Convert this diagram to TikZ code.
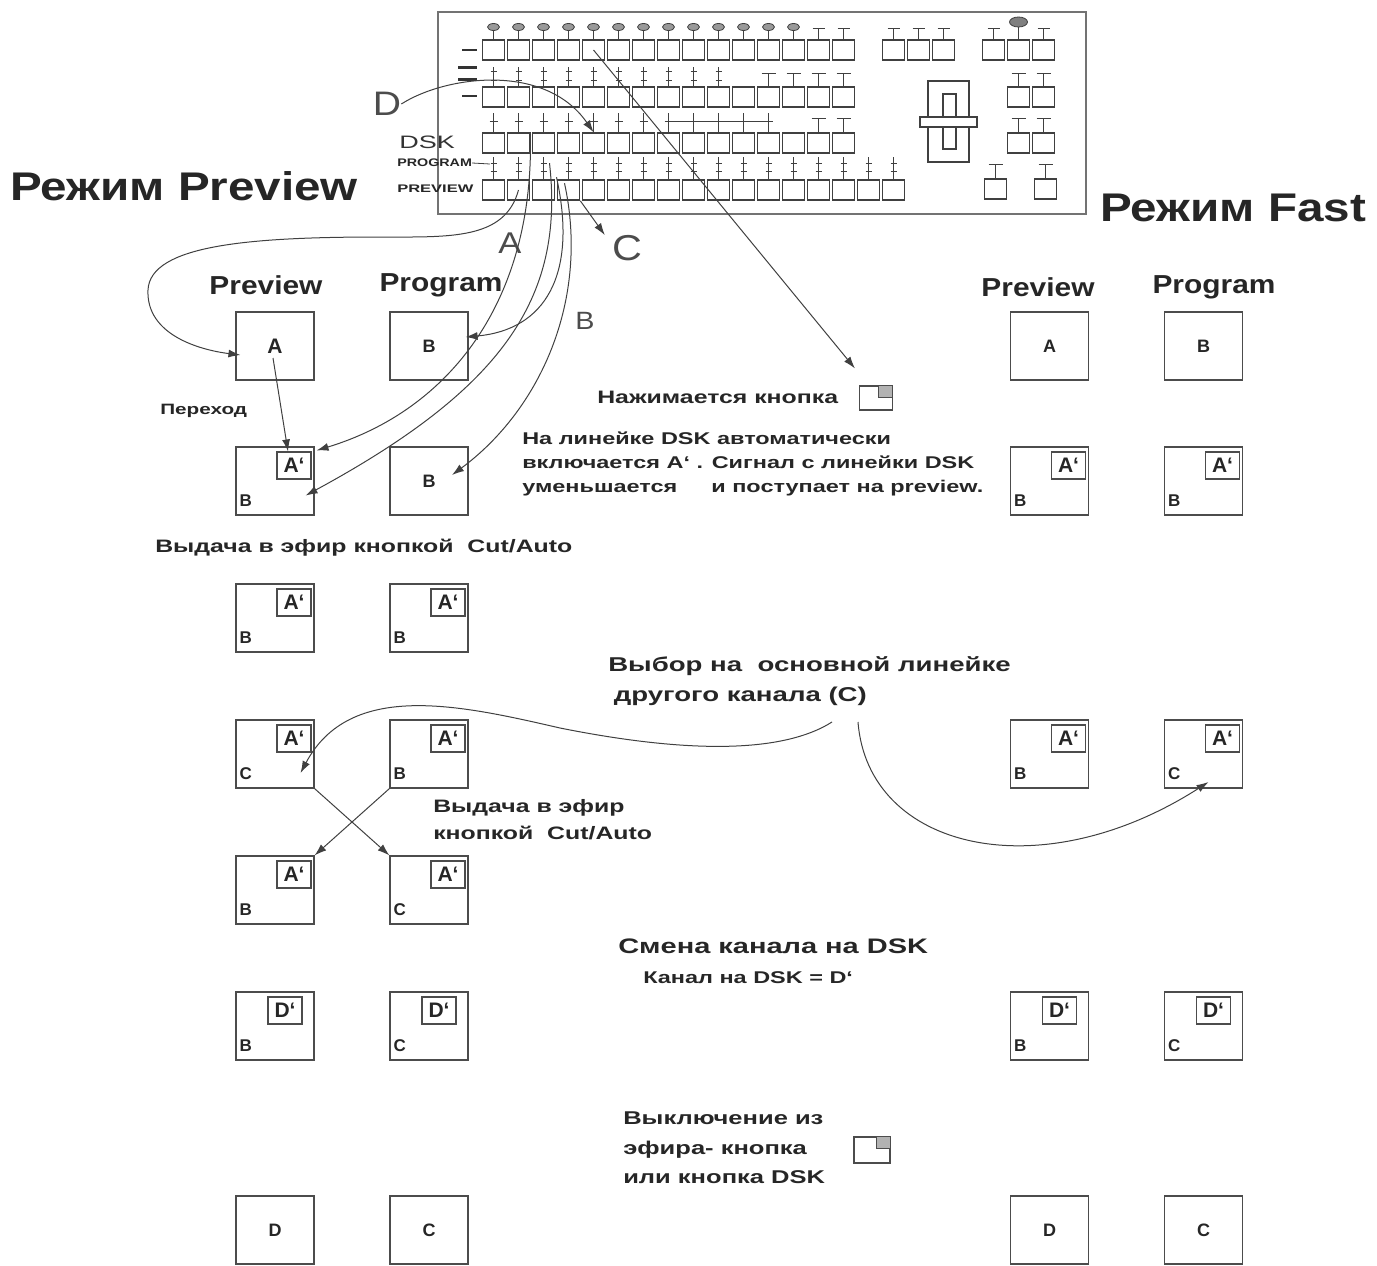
\documentclass[tikz,border=0pt]{standalone}
\usepackage{fontspec}
\setmainfont{Liberation Sans}
\usetikzlibrary{arrows.meta}

\tikzset{
  scr/.style={draw=black!70, line width=1.1pt, minimum width=78pt, minimum height=68pt, inner sep=0pt,
    font=\fontsize{18}{18}\selectfont\bfseries, text=black!85},
  inset/.style={draw=black!70, line width=1.1pt, minimum width=34pt, minimum height=27pt, inner sep=0pt,
    anchor=north east, font=\fontsize{21}{21}\selectfont\bfseries, text=black!85},
  ch/.style={anchor=south west, inner sep=1pt, font=\fontsize{17}{17}\selectfont\bfseries, text=black!85},
  btn/.style={draw=black!75, line width=1.6pt, minimum width=22pt, minimum height=20pt, inner sep=0pt},
  keymark/.style={draw=black!75, line width=0.8pt},
  icon/.style={draw=black!70, line width=1.1pt, minimum width=33pt, minimum height=24pt, inner sep=0pt},
  title/.style={font=\fontsize{40}{48}\selectfont\bfseries, xscale=1.19, text=black!85, inner sep=0pt},
  head/.style={font=\fontsize{26}{30}\selectfont\bfseries, xscale=1.15, text=black!85, inner sep=0pt},
  note/.style={font=\fontsize{18}{24}\selectfont\bfseries, xscale=1.38, text=black!85, inner sep=0pt, align=left},
  big/.style={font=\fontsize{30}{30}\selectfont, xscale=1.15, text=black!70, inner sep=0pt},
  arr/.style={draw=black!75, line width=1pt, -{Latex[length=12pt,width=8pt]}}
}

\begin{document}
\begin{tikzpicture}[x=1pt,y=-1pt]
\useasboundingbox (0,0) rectangle (1377,1266);

% panel
\draw[draw=black!55, line width=1.6pt] (438,12) rectangle (1086,214);
\foreach \i in {0,...,14} {
  \node[btn] (ka\i) at (493.5+25*\i,50) {};
  \node[btn] (kb\i) at (493.5+25*\i,97) {};
  \node[btn] (kc\i) at (493.5+25*\i,143) {};
}
\foreach \i in {0,...,16}
  \node[btn] (kd\i) at (493.5+25*\i,190) {};
\foreach \i in {0,1,2} {
  \node[btn] (ke\i) at (893.5+25*\i,50) {};
  \node[btn] (kf\i) at (993.5+25*\i,50) {};
}
\foreach \i in {0,1} {
  \node[btn] (kg\i) at (1018.5+25*\i,97) {};
  \node[btn] (kh\i) at (1018.5+25*\i,143) {};
}
\node[btn] (ki0) at (995.5,189) {};
\node[btn] (ki1) at (1045.5,189) {};

% marks over the buttons
\foreach \i in {0,...,12} {
  \draw[keymark] (493.5+25*\i,31) -- (493.5+25*\i,40);
  \draw[keymark, fill=black!40] (493.5+25*\i,27) ellipse (6pt and 3.5pt);
}
\foreach \x in {818.5,843.5,893.5,918.5,943.5,993.5,1043.5}
  \draw[keymark] (\x-6,28) -- (\x+6,28) (\x,28) -- (\x,40);
\draw[keymark] (1018.5,26) -- (1018.5,40);
\draw[keymark, fill=black!50] (1018.5,22) ellipse (9pt and 5pt);
\foreach \i in {0,...,9}
  \draw[keymark] (493.5+25*\i,67) -- (493.5+25*\i,87) (490.5+25*\i,71) -- (496.5+25*\i,71) (490.5+25*\i,80) -- (496.5+25*\i,80);
\foreach \x in {768.5,793.5,818.5,843.5,1018.5,1043.5}
  \draw[keymark] (\x-7,73) -- (\x+7,73) (\x,73) -- (\x,87);
\foreach \i in {0,...,11}
  \draw[keymark] (493.5+25*\i,113) -- (493.5+25*\i,133) (489.5+25*\i,121) -- (497.5+25*\i,121);
\draw[keymark] (668.5,121) -- (768.5,121);
\foreach \x in {818.5,843.5,1018.5,1043.5}
  \draw[keymark] (\x-7,118) -- (\x+7,118) (\x,118) -- (\x,133);
\foreach \i in {0,...,16}
  \draw[keymark] (493.5+25*\i,157) -- (493.5+25*\i,180) (490.5+25*\i,163) -- (496.5+25*\i,163) (490.5+25*\i,171) -- (496.5+25*\i,171);
\foreach \x in {995.5,1045.5}
  \draw[keymark] (\x-7,164) -- (\x+7,164) (\x,164) -- (\x,178);

% fader
\draw[draw=black!75, line width=1.3pt] (928,81) rectangle (969,162);
\draw[draw=black!75, line width=1.3pt] (943,94) rectangle (956,149);
\draw[draw=black!75, line width=1.3pt, fill=white] (920,117) rectangle (977,127);

% row marks on the left
\draw[line width=2pt, black!80] (462,50) -- (477,50);
\draw[line width=3pt, black!80] (458,67) -- (477,67);
\draw[line width=3pt, black!80] (458,79) -- (477,79);
\draw[line width=2pt, black!80] (462,96) -- (477,96);
\node[font=\fontsize{18}{18}\selectfont, xscale=1.5, text=black!80, inner sep=0pt, anchor=west] (lDSK) at (399,142) {DSK};
\node[font=\fontsize{11}{11}\selectfont\bfseries, xscale=1.3, text=black!85, inner sep=0pt, anchor=west] (lprog) at (397,163) {PROGRAM};
\draw[keymark] (lprog.east) -- (490,164);
\node[font=\fontsize{11}{11}\selectfont\bfseries, xscale=1.5, text=black!85, inner sep=0pt, anchor=west] (lprev) at (397,189) {PREVIEW};

% titles
\node[title, anchor=west] (tprev) at (10,186) {Режим Preview};
\node[title, anchor=west] (tfast) at (1100,208) {Режим Fast};
\node[head] (hpv) at (266,285) {Preview};
\node[head] (hpg) at (441,285) {Program};
\node[head] (hfv) at (1038,287) {Preview};
\node[head] (hfg) at (1214,287) {Program};

% monitors
\node[scr, font=\fontsize{21}{21}\selectfont\bfseries] (pv1) at (275,346) {A};
\node[scr] (pg1) at (429,346) {B};
\node[scr] (pg2) at (429,481) {B};
\node[scr] (pv7) at (275,1230) {D};
\node[scr] (pg7) at (429,1230) {C};
\node[scr] (fv1) at (1049.5,346) {A};
\node[scr] (fg1) at (1203.5,346) {B};
\node[scr] (fv7) at (1049.5,1230) {D};
\node[scr] (fg7) at (1203.5,1230) {C};
\foreach \nm/\x/\y/\ins/\sh/\bl in {pv2/275/481/A`/0/B, pv3/275/618/A`/0/B, pv4/275/754/A`/0/C,
    pv5/275/890/A`/0/B, pv6/275/1026/D`/9/B, pg3/429/618/A`/0/B, pg4/429/754/A`/0/B,
    pg5/429/890/A`/0/C, pg6/429/1026/D`/9/C, fv2/1049.5/481/A`/0/B, fg2/1203.5/481/A`/0/B,
    fv4/1049.5/754/A`/0/B, fg4/1203.5/754/A`/0/C, fv6/1049.5/1026/D`/9/B, fg6/1203.5/1026/D`/9/C} {
  \node[scr] (\nm) at (\x,\y) {};
  \node[inset] (k\nm) at ([shift={(-3-\sh,5)}]\nm.north east) {\ins};
  \node[ch] (b\nm) at ([shift={(3,-8)}]\nm.south west) {\bl};
}

% texts
\node[note, font=\fontsize{15}{15}\selectfont\bfseries, anchor=west] (ttrans) at (160,411) {Переход};
\node[note, anchor=west] (tpress) at (597,397) {Нажимается кнопка};
\node[icon] (icon1) at (876,398) {};
\node[draw=black!70, line width=1pt, fill=black!30, minimum width=14pt, minimum height=12pt, inner sep=0pt, anchor=north east] (icon1k) at (icon1.north east) {};
\node[note, font=\fontsize{17}{24}\selectfont\bfseries, anchor=north west] (tdsk) at (522,432)
  {На линейке DSK автоматически\\включается A` . Сигнал с линейки DSK\\уменьшается\hspace{20pt} и поступает на preview.};
\node[note, anchor=west] (tcut1) at (155,548) {Выдача в эфир кнопкой~~Cut/Auto};
\node[note, font=\fontsize{20}{30}\selectfont\bfseries, anchor=north west] (tchoice) at (608,656)
  {Выбор на~~основной линейке\\\hspace*{4pt}другого канала (С)};
\node[note, font=\fontsize{18}{27}\selectfont\bfseries, anchor=north west] (tcut2) at (433,799)
  {Выдача в эфир\\кнопкой~~Cut/Auto};
\node[note, font=\fontsize{21}{21}\selectfont\bfseries, anchor=west] (tswap) at (618,946) {Смена канала на DSK};
\node[note, font=\fontsize{17}{17}\selectfont\bfseries, anchor=west] (tchan) at (643,978) {Канал на DSK = D`};
\node[note, font=\fontsize{18.5}{29.5}\selectfont\bfseries, anchor=north west] (toff) at (623,1112)
  {Выключение из\\эфира- кнопка\\или кнопка DSK};
\node[icon, minimum width=36pt, minimum height=26pt] (icon2) at (872,1150) {};
\node[draw=black!70, line width=1pt, fill=black!30, minimum width=14pt, minimum height=12pt, inner sep=0pt, anchor=north east] (icon2k) at (icon2.north east) {};

% channel letters
\node[big, font=\fontsize{34}{34}\selectfont] (lD) at (387,104) {D};
\node[big] (lA) at (510,243) {A};
\node[big, font=\fontsize{25}{25}\selectfont] (lB) at (585,321) {B};
\node[big, font=\fontsize{36}{36}\selectfont] (lC) at (627,248) {C};

% connectors
\draw[arr] (ka4.center) -- ([shift={(-4,-17)}]icon1.north west);
\draw[arr] (lD.east) .. controls (445,76) and (545,62) .. (kc4.north);
\draw[arr] (kd1.center) .. controls (505,240) and (450,237) .. (380,237)
  .. controls (250,237) and (150,245) .. (148,290)
  .. controls (146,335) and (200,350) .. ([shift={(5,9)}]pv1.west);
\draw[arr] (kc1.north east) .. controls (535,300) and (450,410) .. ([shift={(2,4)}]pv2.north east);
\draw[arr] ([shift={(6,-16)}]kd2.north) .. controls (565,300) and (500,390) .. ([shift={(-9,-20)}]pv2.south east);
\draw[arr] ([shift={(13,-2)}]kd2.north) .. controls (578,275) and (545,330) .. ([shift={(-3,-9)}]pg1.east);
\draw[arr] ([shift={(21,4)}]kd2.north) .. controls (590,300) and (540,410) .. ([shift={(23,-6)}]pg2.center);
\draw[arr] (kd3.south east) -- ([xshift=-7pt]lC.north west);
\draw[arr] ([shift={(-2,12)}]pv1.center) -- ([xshift=-6pt]kpv2.north);
\draw[arr] (pv4.south east) -- (pg5.north west);
\draw[arr] (pg4.south west) -- (pv5.north east);
\coordinate (c1) at (832,722);
\coordinate (c2) at (858,722);
\draw[arr] (c1) .. controls (780,755) and (680,752) .. (560,728)
  .. controls (460,705) and (350,680) .. ([shift={(-14,19)}]pv4.east);
\draw[arr] (c2) .. controls (868,850) and (1040,890) .. ([shift={(5,28)}]fg4.center);
\end{tikzpicture}
\end{document}
